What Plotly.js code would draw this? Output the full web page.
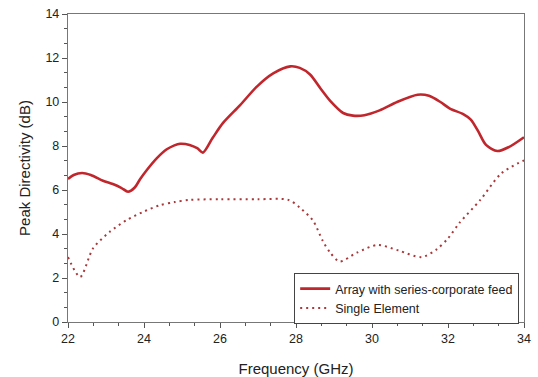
<!DOCTYPE html>
<html>
<head>
<meta charset="utf-8">
<script src="https://cdn.plot.ly/plotly-3.0.1.min.js"></script>
<style>html,body{margin:0;padding:0;background:#fff;}#chart{width:538px;height:377px;}</style>
</head>
<body>
<div id="chart"></div>
<script>
const arrayFreq = [22, 22.15, 22.37, 22.6, 22.92, 23.18, 23.4, 23.58, 23.75, 23.9, 24.07, 24.34, 24.6, 24.8, 24.95, 25.2, 25.4, 25.55, 25.8, 26.08, 26.53, 26.97, 27.4, 27.85, 28.1, 28.37, 28.65, 28.9, 29.24, 29.5, 29.8, 30.2, 30.66, 31.2, 31.5, 31.8, 32.05, 32.4, 32.6, 32.8, 33.0, 33.3, 33.6, 34];
const arrayDir  = [6.5, 6.68, 6.77, 6.68, 6.42, 6.27, 6.1, 5.92, 6.1, 6.5, 6.9, 7.45, 7.85, 8.03, 8.1, 8.05, 7.9, 7.7, 8.35, 9.05, 9.86, 10.7, 11.3, 11.62, 11.55, 11.25, 10.6, 10.05, 9.5, 9.38, 9.4, 9.62, 10.0, 10.33, 10.28, 10.0, 9.7, 9.45, 9.2, 8.65, 8.05, 7.77, 7.95, 8.4];
const singleFreq = [22, 22.32, 22.66, 23.1, 23.55, 23.97, 24.4, 24.8, 25.2, 26, 27, 27.8, 28.1, 28.45, 28.7, 28.9, 29.15, 29.6, 30.15, 30.7, 31.3, 31.7, 32.0, 32.3, 32.85, 33.4, 34];
const singleDir  = [2.95, 2.05, 3.35, 4.1, 4.64, 5.0, 5.3, 5.45, 5.55, 5.58, 5.58, 5.55, 5.2, 4.6, 3.7, 3.15, 2.75, 3.15, 3.5, 3.25, 2.95, 3.3, 3.8, 4.5, 5.55, 6.75, 7.35];
const seriesNames = ["Array with series-corporate feed", "Single Element"];
const xTitle = "Frequency (GHz)";
const yTitle = "Peak Directivity (dB)";

const traces = [
  {x: arrayFreq, y: arrayDir, name: seriesNames[0], mode: 'lines',
   line: {color: '#c0272d', width: 2.6, shape: 'spline', smoothing: 0.8}},
  {x: singleFreq, y: singleDir, name: seriesNames[1], mode: 'lines',
   line: {color: '#a8383a', width: 2, dash: '2px,4px', shape: 'spline', smoothing: 0.8}}
];

const axisCommon = {
  showline: true, linecolor: '#777', linewidth: 1.2, mirror: true,
  ticks: 'outside', ticklen: 5, tickcolor: '#555', tickwidth: 1,
  showgrid: false, zeroline: false,
  tickfont: {family: 'Liberation Sans, Arial, sans-serif', size: 12.5, color: '#222'},
  minor: {dtick: 2/3, ticks: 'outside', ticklen: 3, tickcolor: '#555', showgrid: false}
};

const layout = {
  width: 538, height: 377,
  margin: {l: 68, r: 14, t: 14, b: 55},
  paper_bgcolor: '#fff', plot_bgcolor: '#fff',
  showlegend: true,
  xaxis: Object.assign({}, axisCommon, {
    range: [22, 34], dtick: 2, tick0: 22,
    title: {text: xTitle, font: {family: 'Liberation Sans, Arial, sans-serif', size: 15, color: '#222'}, standoff: 21}
  }),
  yaxis: Object.assign({}, axisCommon, {
    range: [0, 14], dtick: 2, tick0: 0,
    title: {text: yTitle, font: {family: 'Liberation Sans, Arial, sans-serif', size: 15, color: '#222'}, standoff: 11}
  }),
  legend: {
    x: 0.496, y: 0.159, xanchor: 'left', yanchor: 'top',
    bgcolor: '#fff', bordercolor: '#444', borderwidth: 1,
    font: {family: 'Liberation Sans, Arial, sans-serif', size: 12.5, color: '#222'},
    tracegroupgap: 0, itemwidth: 30
  }
};

Plotly.newPlot('chart', traces, layout, {displayModeBar: false, staticPlot: true});
</script>
</body>
</html>
